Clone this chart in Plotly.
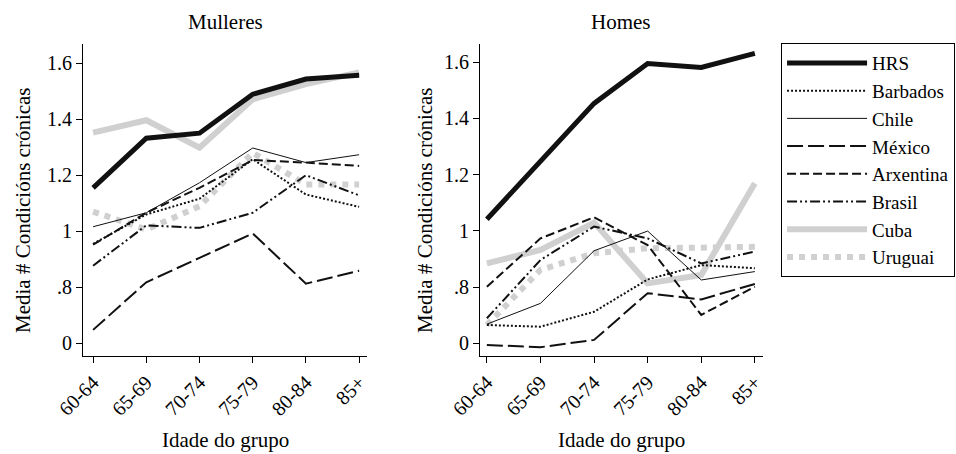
import plotly.graph_objects as go

age_groups = ["60-64", "65-69", "70-74", "75-79", "80-84", "85+"]
series_names = ["HRS", "Barbados", "Chile", "México", "Arxentina", "Brasil", "Cuba", "Uruguai"]

women = {
    "HRS":       [1.155, 1.332, 1.350, 1.489, 1.543, 1.557],
    "Barbados":  [0.955, 1.060, 1.116, 1.257, 1.131, 1.087],
    "Chile":     [1.016, 1.066, 1.173, 1.297, 1.245, 1.273],
    "México":    [0.648, 0.818, 0.905, 0.992, 0.813, 0.859],
    "Arxentina": [0.952, 1.066, 1.155, 1.254, 1.245, 1.233],
    "Brasil":    [0.877, 1.021, 1.012, 1.066, 1.200, 1.128],
    "Cuba":      [1.352, 1.396, 1.298, 1.471, 1.525, 1.567],
    "Uruguai":   [1.070, 1.006, 1.089, 1.280, 1.167, 1.167],
}
men = {
    "HRS":       [1.041, 1.246, 1.453, 1.595, 1.581, 1.631],
    "Barbados":  [0.665, 0.659, 0.712, 0.827, 0.878, 0.867],
    "Chile":     [0.668, 0.742, 0.929, 0.999, 0.825, 0.855],
    "México":    [0.594, 0.586, 0.612, 0.778, 0.756, 0.811],
    "Arxentina": [0.801, 0.973, 1.048, 0.949, 0.701, 0.801],
    "Brasil":    [0.689, 0.896, 1.015, 0.973, 0.884, 0.926],
    "Cuba":      [0.884, 0.932, 1.029, 0.813, 0.843, 1.169],
    "Uruguai":   [0.665, 0.861, 0.920, 0.938, 0.940, 0.943],
}

ytick_vals = [0.6, 0.8, 1.0, 1.2, 1.4, 1.6]
ytick_text = ["0", ".8", "1", "1.2", "1.4", "1.6"]

styles = {
    "HRS":       dict(color="#111111", width=5, dash="solid"),
    "Barbados":  dict(color="#111111", width=2, dash="2px,2px"),
    "Chile":     dict(color="#111111", width=1, dash="solid"),
    "México":    dict(color="#111111", width=2, dash="16px,5px"),
    "Arxentina": dict(color="#111111", width=2, dash="9px,4px"),
    "Brasil":    dict(color="#111111", width=2, dash="10px,3px,2px,3px,2px,3px"),
    "Cuba":      dict(color="#d0d0d0", width=6, dash="solid"),
    "Uruguai":   dict(color="#d0d0d0", width=6, dash="6px,6px"),
}

FONT = "Liberation Serif"
FS = 21
fig = go.Figure()
order = ["Cuba", "Uruguai", "HRS", "Chile", "Arxentina", "Barbados", "Brasil", "México"]
for name in order:
    fig.add_trace(go.Scatter(x=age_groups, y=women[name], mode="lines", name=name,
                             line=styles[name], xaxis="x", yaxis="y", showlegend=False))
    fig.add_trace(go.Scatter(x=age_groups, y=men[name], mode="lines", name=name,
                             line=styles[name], xaxis="x2", yaxis="y2",
                             showlegend=True, legendrank=series_names.index(name) + 1))

axis_common = dict(showline=True, linecolor="black", linewidth=1, ticks="outside",
                   ticklen=6, tickcolor="black", showgrid=False, zeroline=False,
                   tickfont=dict(family=FONT, size=20, color="black"))
fig.update_layout(
    width=956, height=454, margin=dict(l=0, r=0, t=0, b=0, autoexpand=False),
    paper_bgcolor="white", plot_bgcolor="white",
    font=dict(family=FONT, color="black"),
    xaxis=dict(domain=[0.0868, 0.384], range=[-0.19, 5.15], tickangle=-45, anchor="y", **axis_common),
    yaxis=dict(domain=[0.216, 0.903], range=[0.555, 1.668], tickvals=ytick_vals, ticktext=ytick_text,
               anchor="x", **axis_common),
    xaxis2=dict(domain=[0.502, 0.798], range=[-0.13, 5.15], tickangle=-45, anchor="y2", **axis_common),
    yaxis2=dict(domain=[0.216, 0.903], range=[0.555, 1.664], tickvals=ytick_vals, ticktext=ytick_text,
                anchor="x2", **axis_common),
    legend=dict(x=0.817, y=0.905, xanchor="left", yanchor="top", bordercolor="black", borderwidth=1,
                font=dict(family=FONT, size=19, color="black"), tracegroupgap=0,
                bgcolor="white", itemwidth=80),
)

def note(text, x, y, angle=0):
    fig.add_annotation(text=text, x=x / 956, y=1 - y / 454, xref="paper", yref="paper",
                       showarrow=False, xanchor="center", yanchor="middle", textangle=angle,
                       font=dict(size=FS, family=FONT, color="black"))

note("Mulleres", 225, 22)
note("Homes", 621, 22)
note("Idade do grupo", 225, 440)
note("Idade do grupo", 621, 440)
note("Media # Condicións crónicas", 23, 210, -90)
note("Media # Condicións crónicas", 425, 210, -90)

fig.write_html("out.html")
